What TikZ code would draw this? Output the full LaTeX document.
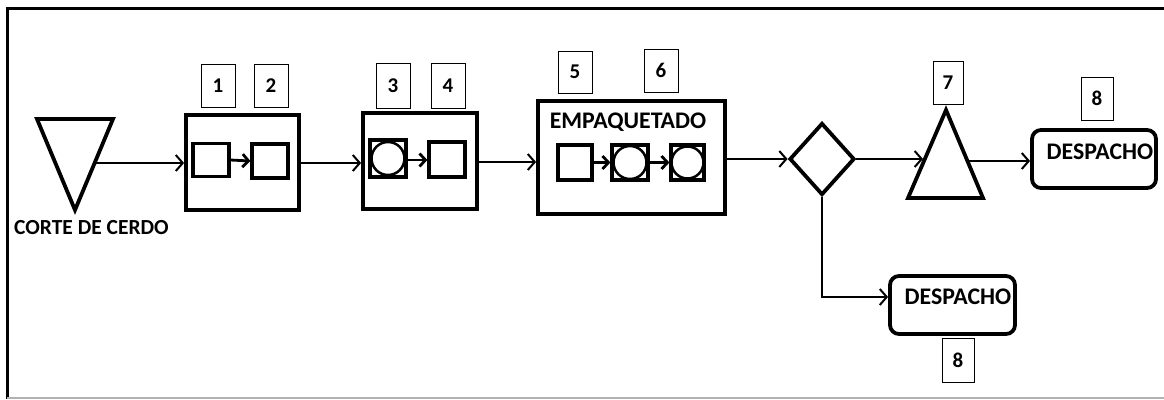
\documentclass[tikz,border=0pt]{standalone}
\usepackage{fontspec}
\setmainfont{Carlito}
\usetikzlibrary{shapes.geometric,arrows.meta}
\begin{document}
\begin{tikzpicture}[x=1pt,y=-1pt,
  bigbox/.style={draw, line width=3.8pt, rectangle, inner sep=0},
  sq/.style={draw, line width=3.2pt, rectangle, inner sep=0},
  lbl/.style={draw, line width=0.8pt, rectangle, inner sep=0, font=\bfseries\fontsize{21}{21}\selectfont},
  arr/.style={-{Straight Barb[length=7pt,width=16pt,line width=2pt]}, line width=2pt},
  iarr/.style={-{Straight Barb[length=6pt,width=13pt,line width=2.8pt]}, line width=2.8pt},
  desp/.style={draw, line width=3.8pt, rectangle, rounded corners=9pt, inner sep=0},
  txt/.style={inner sep=0, font=\bfseries\fontsize{21.5}{21.5}\selectfont},
  bigtxt/.style={inner sep=0, font=\bfseries\fontsize{23.8}{23.8}\selectfont}
]
\useasboundingbox (0,0) rectangle (1164,399);
\fill[white] (0,0) rectangle (1164,399);
% frame
\draw[line width=3pt] (7,399) -- (7,8) -- (1164,8);
\draw[gray!60, line width=1.5pt] (7,398) -- (1164,398);

% inverted triangle
\draw[line width=3.8pt, line join=miter] (37,119) -- (113,119) -- (75,210) -- cycle;
\coordinate (t1out) at (96,163);
\node[txt] (corte) at (91.5,228) {CORTE DE CERDO};

% box 1
\node[bigbox, minimum width=113pt, minimum height=95pt] (b1) at (242.5,162.5) {};
\node[sq, minimum width=36pt, minimum height=33pt] (sqa) at (211,160) {};
\node[sq, minimum width=36pt, minimum height=34pt] (sqb) at (270,161) {};
\node[lbl, minimum width=34pt, minimum height=43pt] (l1) at (218,85.5) {1};
\node[lbl, minimum width=34pt, minimum height=43pt] (l2) at (271,85.5) {2};

% box 2
\node[bigbox, minimum width=114pt, minimum height=96pt] (b2) at (420,161) {};
\node[sq, minimum width=36pt, minimum height=37pt] (sqc) at (388,158.5) {};
\draw[line width=2.5pt] (sqc.center) circle (16.5pt);
\node[sq, minimum width=36pt, minimum height=35pt] (sqd) at (447,159.5) {};
\node[lbl, minimum width=34pt, minimum height=45pt] (l3) at (393,85.5) {3};
\node[lbl, minimum width=34pt, minimum height=45pt] (l4) at (448,85.5) {4};

% box 3
\node[bigbox, minimum width=187pt, minimum height=113pt] (b3) at (631.5,157.5) {};
\node[bigtxt] (emp) at (628,122) {EMPAQUETADO};
\node[sq, minimum width=34pt, minimum height=35pt] (sqe) at (575,162.5) {};
\node[sq, minimum width=36pt, minimum height=35pt] (sqf) at (630,162.5) {};
\draw[line width=2.5pt] (sqf.center) circle (16.5pt);
\node[sq, minimum width=33pt, minimum height=35pt] (sqg) at (687.5,162.5) {};
\draw[line width=2.5pt] (sqg.center) circle (16pt);
\node[lbl, minimum width=34pt, minimum height=42pt] (l5) at (575,72) {5};
\node[lbl, minimum width=34pt, minimum height=43pt] (l6) at (661,70.5) {6};

% diamond
\node[draw, diamond, line width=3.8pt, inner sep=0, minimum width=65pt, minimum height=72pt] (dia) at (822,159) {};

% upright triangle
\draw[line width=3.8pt, line join=miter] (946,110) -- (983,198) -- (908,198) -- cycle;
\coordinate (t2in) at (923,159);
\coordinate (t2out) at (967,161);
\node[lbl, minimum width=30pt, minimum height=43pt] (l7) at (948,82.5) {7};

% despacho boxes
\node[desp, minimum width=124pt, minimum height=58pt] (d1) at (1094,159) {};
\node[bigtxt] (d1t) at (1100,152) {DESPACHO};
\node[lbl, minimum width=32pt, minimum height=43pt] (l8a) at (1097,98.5) {8};
\node[desp, minimum width=125pt, minimum height=58pt] (d2) at (952.5,305) {};
\node[bigtxt] (d2t) at (958,297) {DESPACHO};
\node[lbl, minimum width=32pt, minimum height=44pt] (l8b) at (958,360) {8};

% connectors
\draw[arr] (t1out) -- (b1.west |- t1out);
\draw[iarr] (sqa.east) -- (sqb.west);
\draw[arr] (b1.east |- 0,163) -- (b2.west |- 0,163);
\draw[iarr] (sqc.east |- 0,160) -- (sqd.west |- 0,160);
\draw[arr] (b2.east |- 0,162) -- (b3.west |- 0,162);
\draw[iarr] (sqe.east) -- (sqf.west);
\draw[iarr] (sqf.east) -- (sqg.west);
\draw[arr] (b3.east |- dia.west) -- (dia.west);
\draw[arr] (dia.east) -- (t2in);
\draw[arr] (t2out) -- (d1.west |- t2out);
\draw[arr] (dia.south) |- (d2.west |- 0,297);
\end{tikzpicture}
\end{document}
